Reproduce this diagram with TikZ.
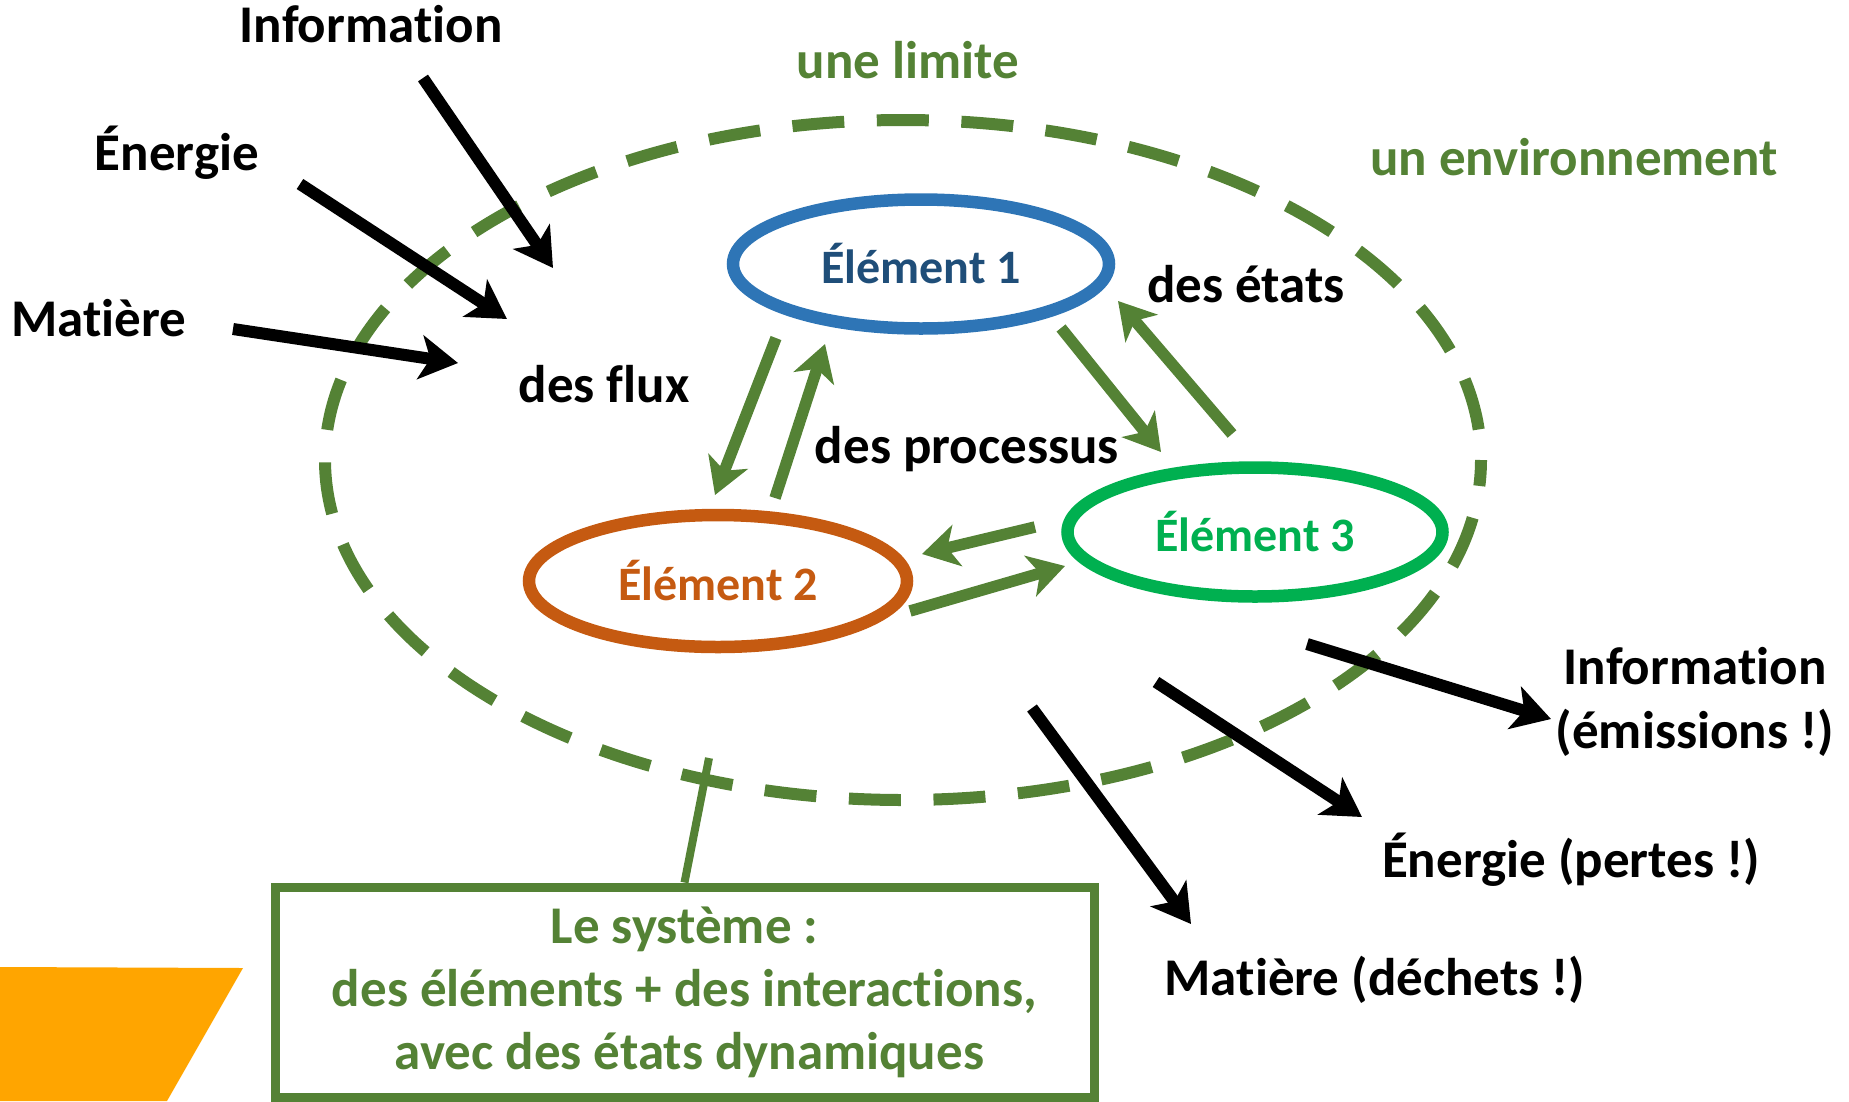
\documentclass[tikz,border=0pt]{standalone}
\usepackage{fontspec}
\setmainfont{Carlito}[Ligatures=NoCommon]
\usetikzlibrary{arrows.meta,shapes.geometric}
\definecolor{dgreen}{RGB}{84,130,53}
\definecolor{eblue}{RGB}{46,117,182}
\definecolor{eblueT}{RGB}{31,78,121}
\definecolor{eorange}{RGB}{197,90,17}
\definecolor{egreen}{RGB}{0,176,80}
\definecolor{tabor}{RGB}{255,165,0}
\tikzset{
  lbl/.style={font=\fontsize{53}{63}\selectfont\bfseries, text height=36pt, text depth=10pt, inner sep=0pt},
  glbl/.style={lbl, text=dgreen},
  elt/.style={ellipse, draw, line width=12.5pt, inner sep=0pt, font=\fontsize{48}{56}\selectfont\bfseries},
  blackarrow/.style={line width=12pt, -{Stealth[length=38pt, width=44pt, inset=10pt]}},
  greenarrow/.style={line width=11.5pt, -{Stealth[length=36pt, width=42pt, inset=10pt]}, color=dgreen},
}
\begin{document}
\begin{tikzpicture}[x=1pt, y=-1pt]
\useasboundingbox (0,0) rectangle (1849,1101);
% orange tab
\fill[tabor] (0,967) -- (243,968) -- (167,1101) -- (0,1101) -- cycle;
% limit
\draw[dgreen, line width=12pt, dash pattern=on 52pt off 32.6pt, dash phase=26pt] (903,460) ellipse [x radius=578, y radius=340];
% elements
\node[elt, draw=eblue, text=eblueT, minimum width=376pt, minimum height=129pt] (e1) at (921,264) {Élément 1};
\node[elt, draw=eorange, text=eorange, minimum width=378pt, minimum height=132pt] (e2) at (718,581) {Élément 2};
\node[elt, draw=egreen, text=egreen, minimum width=375pt, minimum height=129pt] (e3) at (1255,532) {Élément 3};
% labels
\node[lbl] (inInfo) at (371,29) {Information};
\node[lbl] (inEn) at (177,157) {Énergie};
\node[lbl] (inMat) at (99,323) {Matière};
\node[glbl] (limite) at (908,65) {une limite};
\node[glbl] (env) at (1574,162) {un environnement};
\node[lbl] (flux) at (604,389) {des flux};
\node[lbl] (etats) at (1246,289) {des états};
\node[lbl] (proc) at (967,450) {des processus};
\node[lbl] (outInfo1) at (1695,671) {Information};
\node[lbl] (outInfo2) at (1695,735) {(émissions !)};
\node[lbl] (outEn) at (1571,864) {Énergie (pertes !)};
\node[lbl] (outMat) at (1375,982) {Matière (déchets !)};
% box
\node[draw=dgreen, line width=9pt, minimum width=819pt, minimum height=210pt, align=center,
      text=dgreen, font=\fontsize{53}{63}\selectfont\bfseries, inner sep=0pt] (box) at (684.5,992)
  {Le système :\\ des éléments + des interactions,\\ \hspace*{10pt}avec des états dynamiques};
\coordinate (lim) at (709,758);
\draw[dgreen, line width=8pt] (box.north) -- (lim);
% black arrow coordinates
\coordinate (a1s) at (423,78);  \coordinate (a1e) at (553,268);
\coordinate (a2s) at (300,184); \coordinate (a2e) at (507,319);
\coordinate (a3s) at (233,329); \coordinate (a3e) at (458,363);
\coordinate (b1s) at (1307,644); \coordinate (b1e) at (1551,719);
\coordinate (b2s) at (1156,682); \coordinate (b2e) at (1362,817);
\coordinate (b3s) at (1032,708); \coordinate (b3e) at (1191,924);
\draw[blackarrow] (a1s) -- (a1e);
\draw[blackarrow] (a2s) -- (a2e);
\draw[blackarrow] (a3s) -- (a3e);
\draw[blackarrow] (b1s) -- (b1e);
\draw[blackarrow] (b2s) -- (b2e);
\draw[blackarrow] (b3s) -- (b3e);
% green arrows
\coordinate (g1s) at (776,338);  \coordinate (g1e) at (715,495);
\coordinate (g2s) at (775,498);  \coordinate (g2e) at (825,344);
\coordinate (g3s) at (1061,328); \coordinate (g3e) at (1161,452);
\coordinate (g4s) at (1232,434); \coordinate (g4e) at (1118,301);
\coordinate (g5s) at (1035,527); \coordinate (g5e) at (922,554);
\coordinate (g6s) at (910,611);  \coordinate (g6e) at (1065,566);
\draw[greenarrow] (g1s) -- (g1e);
\draw[greenarrow] (g2s) -- (g2e);
\draw[greenarrow] (g3s) -- (g3e);
\draw[greenarrow] (g4s) -- (g4e);
\draw[greenarrow] (g5s) -- (g5e);
\draw[greenarrow] (g6s) -- (g6e);
\end{tikzpicture}
\end{document}
